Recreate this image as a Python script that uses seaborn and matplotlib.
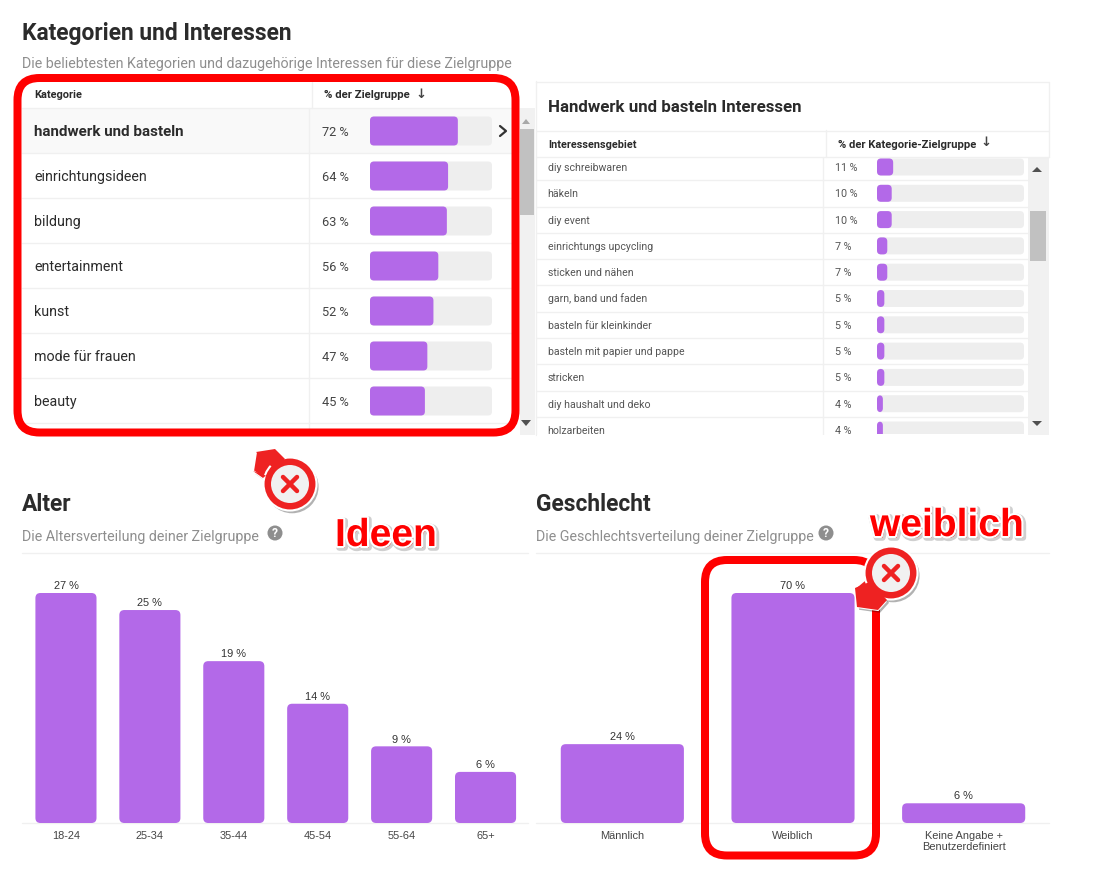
import matplotlib
matplotlib.use("Agg")
import matplotlib.pyplot as plt
import matplotlib.patheffects as pe
from matplotlib.patches import FancyBboxPatch, Rectangle, Circle, Polygon
import pandas as pd
import seaborn as sns

sns.set_theme(style="white")
plt.rcParams['font.family'] = ['Roboto', 'DejaVu Sans']

categories = ["handwerk und basteln", "einrichtungsideen", "bildung", "entertainment",
              "kunst", "mode für frauen", "beauty"]
category_values = [72, 64, 63, 56, 52, 47, 45]
interests = ["diy schreibwaren", "häkeln", "diy event", "einrichtungs upcycling",
             "sticken und nähen", "garn, band und faden", "basteln für kleinkinder",
             "basteln mit papier und pappe", "stricken", "diy haushalt und deko", "holzarbeiten"]
interest_values = [11, 10, 10, 7, 7, 5, 5, 5, 5, 4, 4]
age_labels = ["18-24", "25-34", "35-44", "45-54", "55-64", "65+"]
age_values = [27, 25, 19, 14, 9, 6]
gender_labels = ["Männlich", "Weiblich", "Keine Angabe +\nBenutzerdefiniert"]
gender_values = [24, 70, 6]

W, H = 1093, 873
PURPLE, TRACK, LINE, RED = "#b369e8", "#eeeeee", "#f0f0f0", "#ff0000"
DARK, GREY = "#2b2b2b", "#8e8e8e"
ARIAL = "Liberation Sans"

fig = plt.figure(figsize=(W / 100, H / 100), dpi=100, facecolor="white")


def px(n):
    return n * 0.72


def pixel_axes(z):
    a = fig.add_axes([0, 0, 1, 1], zorder=z)
    a.set_xlim(0, W)
    a.set_ylim(H, 0)
    a.axis("off")
    a.patch.set_alpha(0)
    return a


def chart_axes(x0, y0, x1, y1):
    a = fig.add_axes([x0 / W, 1 - y1 / H, (x1 - x0) / W, (y1 - y0) / H], zorder=2)
    a.patch.set_alpha(0)
    return a


def round_bars(ax, radius):
    """Swap the rectangles drawn by seaborn for rounded ones of the same extent."""
    b = ax.get_window_extent(fig.canvas.get_renderer())
    xl, yl = ax.get_xlim(), ax.get_ylim()
    ux = abs(xl[1] - xl[0]) / b.width
    uy = abs(yl[1] - yl[0]) / b.height
    for bar in list(ax.patches):
        x, y, w, h = bar.get_x(), bar.get_y(), bar.get_width(), bar.get_height()
        col, z = bar.get_facecolor(), bar.get_zorder()
        bar.remove()
        if w <= 0 or h <= 0:
            continue
        ax.add_patch(FancyBboxPatch((x, y), w, h, boxstyle=f"round,pad=0,rounding_size={radius * ux}",
                                    mutation_aspect=uy / ux, fc=col, ec="none", lw=0, zorder=z))


back = pixel_axes(0)
front = pixel_axes(5)

# ---- headings
for txt, x, y, s in [("Kategorien und Interessen", 22, 40, 22.7), ("Alter", 22, 511, 22.7), ("Geschlecht", 536, 511, 22.7)]:
    back.text(x, y, txt, fontsize=px(s), fontweight="bold", color=DARK, va="baseline")
for txt, x, y in [("Die beliebtesten Kategorien und dazugehörige Interessen für diese Zielgruppe", 22, 68),
                  ("Die Altersverteilung deiner Zielgruppe", 22, 541),
                  ("Die Geschlechtsverteilung deiner Zielgruppe", 536, 541)]:
    back.text(x, y, txt, fontsize=px(14.2), color=GREY, va="baseline")
for cx in (275, 826):
    back.add_patch(Circle((cx, 533), 7.5, fc=GREY, ec="none"))
    back.text(cx, 533.5, "?", fontsize=px(12), color="white", fontweight="bold", ha="center", va="center")
back.plot([22, 528], [553, 553], color=LINE, lw=1)
back.plot([536, 1049], [553, 553], color=LINE, lw=1)

# ---- left table furniture
back.add_patch(Rectangle((22, 108), 498, 45, fc="#f9f9f9", ec="none"))
back.add_patch(Rectangle((520, 108), 15, 327, fc="#f1f1f1", ec="none"))
back.add_patch(Rectangle((520, 129), 14, 86, fc="#c1c1c1", ec="none"))
back.add_patch(Polygon([[522, 124], [530, 124], [526, 119]], fc="#a8a8a8", ec="none"))
back.add_patch(Polygon([[521, 420], [531, 420], [526, 426]], fc="#505050", ec="none"))
back.plot([22, 512], [108, 108], color=LINE, lw=1)
for r in range(1, 8):
    back.plot([22, 512], [108 + 45 * r] * 2, color=LINE, lw=1)
back.plot([312, 312], [82, 108], color=LINE, lw=1)
back.plot([309, 309], [108, 432], color=LINE, lw=1)
back.text(34, 98, "Kategorie", fontsize=px(11), fontweight="bold", color=DARK, va="baseline")
back.text(324, 98, "% der Zielgruppe", fontsize=px(11.4), fontweight="bold", color=DARK, va="baseline")
back.text(421, 94, "↓", fontsize=px(13), fontweight="bold", color="#444444", ha="center", va="center", family="DejaVu Sans")
back.plot([500, 506, 500], [126, 131, 136], color="#333333", lw=1.6)

# ---- right table furniture
back.plot([536, 1049, 1049], [81.5, 81.5, 157], color=LINE, lw=1)
back.plot([536, 536], [81, 435], color=LINE, lw=1)
back.plot([536, 1049], [130.5, 130.5], color=LINE, lw=1)
back.plot([536, 1049], [156.5, 156.5], color=LINE, lw=1)
back.plot([825.5, 825.5], [130, 157], color=LINE, lw=1)
back.plot([822.5, 822.5], [157, 435], color=LINE, lw=1)
back.text(548, 112.5, "Handwerk und basteln Interessen", fontsize=px(16.9), fontweight="bold", color=DARK, va="baseline")
back.text(548, 148, "Interessensgebiet", fontsize=px(10.9), fontweight="bold", color=DARK, va="baseline")
back.text(838, 148, "% der Kategorie-Zielgruppe", fontsize=px(11.2), fontweight="bold", color=DARK, va="baseline")
back.text(986, 143, "↓", fontsize=px(13), fontweight="bold", color="#444444", ha="center", va="center", family="DejaVu Sans")
back.add_patch(Rectangle((1028, 157), 21, 278, fc="#f1f1f1", ec="none"))
back.add_patch(Rectangle((1030, 211), 16, 50, fc="#c1c1c1", ec="none"))
back.add_patch(Polygon([[1032, 172], [1042, 172], [1037, 167]], fc="#505050", ec="none"))
back.add_patch(Polygon([[1032, 421], [1042, 421], [1037, 426]], fc="#505050", ec="none"))

# ---- left table bars (rows 45 px, bars 29 px)
df_cat = pd.DataFrame({"name": categories, "v": category_values, "track": [100] * len(categories)})
axl = chart_axes(370, 108.5, 492, 423.5)
sns.barplot(data=df_cat, y="name", x="track", color=TRACK, width=29 / 45, saturation=1, ax=axl)
sns.barplot(data=df_cat, y="name", x="v", color=PURPLE, width=29 / 45, saturation=1, ax=axl)
axl.set_xlim(0, 100)
axl.set_ylim(len(categories) - 0.5, -0.5)
axl.axis("off")
round_bars(axl, 4)
for i, (n, v) in enumerate(zip(categories, category_values)):
    y = 131 + 45 * i
    back.text(34, y + 5, n, fontsize=px(15.1 if i == 0 else 14.3), color=DARK, va="baseline",
              fontweight="bold" if i == 0 else "normal")
    back.text(335, y + 5, f"{v} %", fontsize=px(12.7), color="#444444", va="baseline", ha="center")

# ---- right table bars (rows 26.3 px, bars 17 px, list is scrolled and cut)
df_int = pd.DataFrame({"name": interests, "v": interest_values, "track": [100] * len(interests)})
axr = chart_axes(877, 157, 1024, 434)
sns.barplot(data=df_int, y="name", x="track", color=TRACK, width=17 / 26.3, saturation=1, ax=axr)
sns.barplot(data=df_int, y="name", x="v", color=PURPLE, width=17 / 26.3, saturation=1, ax=axr)
axr.set_xlim(0, 100)
axr.set_ylim((434 - 167) / 26.3, (157 - 167) / 26.3)
axr.axis("off")
round_bars(axr, 4)
for i, (n, v) in enumerate(zip(interests, interest_values)):
    y = 167 + 26.3 * i
    back.text(547.5, y + 4, n, fontsize=px(10.5), color="#555555", va="baseline")
    back.text(835, y + 4, f"{v} %", fontsize=px(10.8), color="#555555", va="baseline")
    if i < len(interests) - 1:
        back.plot([536, 1028], [y + 13.2] * 2, color=LINE, lw=1)
front.add_patch(Rectangle((537, 435), 491, 12, fc="white", ec="none"))


def column_chart(labels, values, x0, x1, y_top, y_max, width):
    df = pd.DataFrame({"label": labels, "v": values})
    ax = chart_axes(x0, y_top, x1, 823)
    sns.barplot(data=df, x="label", y="v", color=PURPLE, width=width, saturation=1, ax=ax)
    ax.set_ylim(0, y_max)
    ax.set_xlim(-0.5, len(labels) - 0.5)
    ax.set_xlabel("")
    ax.set_ylabel("")
    ax.set_yticks([])
    for s in ("top", "left", "right", "bottom"):
        ax.spines[s].set_visible(False)
    ax.tick_params(axis="x", length=0, pad=6)
    ax.set_xticks(range(len(labels)))
    ax.set_xticklabels(labels, fontsize=px(11), color="#444444", family=ARIAL, linespacing=1.1)
    for b, v in zip(ax.patches, values):
        ax.annotate(f"{v} %", (b.get_x() + b.get_width() / 2, v), xytext=(0, 1.3), textcoords="offset points",
                    ha="center", va="bottom", fontsize=px(11), color="#333333", family=ARIAL, annotation_clip=False)
    round_bars(ax, 5)
    return ax


# 230 px of bar height stands for the largest value in each chart
column_chart(age_labels, age_values, 24, 527.5, 573, 27 * 250 / 230, 61 / 83.8)
column_chart(gender_labels, gender_values, 537, 1049, 573, 70 * 250 / 230, 123 / 170.5)
back.plot([22, 528], [823, 823], color=LINE, lw=1)
back.plot([536, 1049], [823, 823], color=LINE, lw=1)

# ---- red annotations
for (x0, y0, x1, y1) in [(17.5, 78, 515.5, 432.5), (705, 560, 876, 855.5)]:
    front.add_patch(FancyBboxPatch((x0, y0), x1 - x0, y1 - y0, boxstyle="round,pad=0,rounding_size=22",
                                   fc="none", ec=RED, lw=px(8), zorder=3))

BADGE = "#ee2222"
shadow = [pe.SimplePatchShadow(offset=(1.5, -2), alpha=0.3, shadow_rgbFace="black"), pe.Normal()]


def badge(cx, cy, pointer):
    front.add_patch(Polygon(pointer, fc=BADGE, ec="white", lw=1.5, zorder=4, path_effects=shadow))
    front.add_patch(Circle((cx, cy), 26.5, fc=BADGE, ec="white", lw=1.5, zorder=4.1, path_effects=shadow))
    front.add_patch(Polygon(pointer + [[cx, cy]], fc=BADGE, ec="none", zorder=4.2))
    front.add_patch(Circle((cx, cy), 19, fc="#f1f1f1", ec="none", zorder=4.3))
    for sx in (-1, 1):
        front.plot([cx - 7 * sx, cx + 7 * sx], [cy - 7, cy + 7], color=BADGE, lw=px(4.5),
                   solid_capstyle="round", zorder=4.4)


badge(290, 484, [[256, 452], [275, 449], [285, 459], [263, 478], [253, 471]])
badge(891, 573, [[855, 588], [857, 607], [878, 610], [887, 600], [867, 578]])

glow = [pe.Stroke(linewidth=4.5, foreground="#00000030", offset=(1.2, -1.2)),
        pe.Stroke(linewidth=3, foreground="white"), pe.Normal()]
front.text(386, 546, "Ideen", fontsize=px(39), fontweight="bold", color=RED, family=ARIAL,
           ha="center", va="baseline", path_effects=glow, zorder=6)
front.text(947, 536, "weiblich", fontsize=px(39), fontweight="bold", color=RED, family=ARIAL,
           ha="center", va="baseline", path_effects=glow, zorder=6)

fig.savefig("out.png", dpi=100, facecolor="white")
